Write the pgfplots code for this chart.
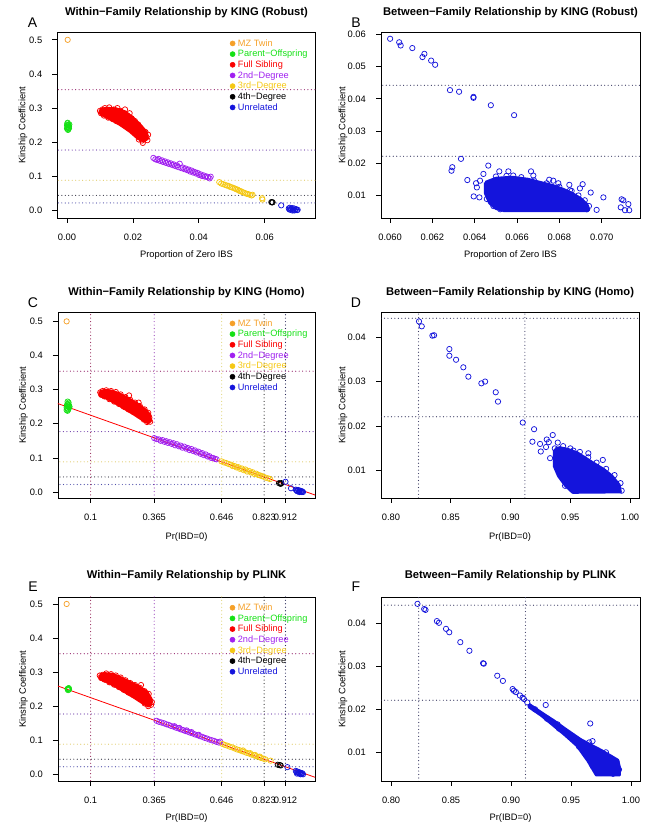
\documentclass[border=0pt]{standalone}
\usepackage{pgfplots}
\pgfplotsset{compat=1.18}
\usepackage{fontspec}
\setmainfont{Liberation Sans}

\definecolor{mzc}{RGB}{245,160,40}
\definecolor{poc}{RGB}{20,225,20}
\definecolor{fsc}{RGB}{250,0,0}
\definecolor{sdc}{RGB}{160,32,240}
\definecolor{tdc}{RGB}{245,200,20}
\definecolor{unc}{RGB}{20,20,220}
\definecolor{l354}{RGB}{150,40,110}
\definecolor{l177}{RGB}{110,60,170}
\definecolor{l088}{RGB}{225,205,110}
\definecolor{l044}{RGB}{55,55,70}
\definecolor{l022}{RGB}{80,80,170}
\definecolor{v100}{RGB}{150,40,90}
\definecolor{v365}{RGB}{160,80,190}
\definecolor{v646}{RGB}{225,215,130}
\definecolor{v823}{RGB}{30,30,30}
\definecolor{v912}{RGB}{40,40,90}
\definecolor{bl}{RGB}{60,60,100}

\newcommand{\tk}{\fontsize{7}{8}\selectfont}
\newcommand{\ttl}{\bfseries\fontsize{8.4}{10}\selectfont}
\newcommand{\lett}{\fontsize{10.5}{12}\selectfont}

\pgfplotsset{
  kin/.style={scale only axis, anchor=south west, clip=true, scaled ticks=false,
    axis line style={line width=0.6pt},
    tick align=outside, tick pos=left, major tick length=3.75pt,
    major tick style={black, line width=0.5pt},
    tick label style={font=\tk, inner sep=0pt},
    xticklabel style={anchor=center, yshift=-10.5pt},
    yticklabel style={anchor=east, xshift=-7.5pt},
    legend cell align=left,
    legend style={draw=none, fill=none, at={(0.668,0.972)}, anchor=north west,
      inner sep=0pt, row sep=0pt, column sep=1.5pt,
      font=\fontsize{6.9}{8}\selectfont,
      nodes={inner sep=0.6pt, text height=5.4pt, text depth=1.4pt}},
    legend image code/.code={\draw[##1,mark size=1.9pt] plot coordinates {(0.1cm,0cm)};},
  },
  pt/.style={forget plot, only marks, mark=o, mark size=2pt, mark options={line width=0.55pt}},
  cloud/.style={forget plot, fill=#1, draw=#1, line width=2pt, line join=round},
  ref/.style={forget plot, line width=0.9pt, line cap=round, dash pattern=on 0pt off 2.6pt},
}

\newcommand{\kinlegend}{%
  \addlegendimage{only marks,mark=*,mzc}\addlegendentry{\textcolor{mzc}{MZ Twin}}
  \addlegendimage{only marks,mark=*,poc}\addlegendentry{\textcolor{poc}{Parent−Offspring}}
  \addlegendimage{only marks,mark=*,fsc}\addlegendentry{\textcolor{fsc}{Full Sibling}}
  \addlegendimage{only marks,mark=*,sdc}\addlegendentry{\textcolor{sdc}{2nd−Degree}}
  \addlegendimage{only marks,mark=*,tdc}\addlegendentry{\textcolor{tdc}{3rd−Degree}}
  \addlegendimage{only marks,mark=*,black}\addlegendentry{\textcolor{black}{4th−Degree}}
  \addlegendimage{only marks,mark=*,unc}\addlegendentry{\textcolor{unc}{Unrelated}}
}
\newcommand{\hlines}[2]{%
  \addplot[ref,l354] coordinates {(#1,0.354) (#2,0.354)};
  \addplot[ref,l177] coordinates {(#1,0.177) (#2,0.177)};
  \addplot[ref,l088] coordinates {(#1,0.0884) (#2,0.0884)};
  \addplot[ref,l044] coordinates {(#1,0.0442) (#2,0.0442)};
  \addplot[ref,l022] coordinates {(#1,0.0221) (#2,0.0221)};
}
\newcommand{\vlines}{%
  \addplot[ref,v100] coordinates {(0.1,-0.1) (0.1,0.6)};
  \addplot[ref,v365] coordinates {(0.365,-0.1) (0.365,0.6)};
  \addplot[ref,v646] coordinates {(0.646,-0.1) (0.646,0.6)};
  \addplot[ref,v823] coordinates {(0.823,-0.1) (0.823,0.6)};
  \addplot[ref,v912] coordinates {(0.912,-0.1) (0.912,0.6)};
}
\newcommand{\betweenlines}[2]{%
  \addplot[ref,bl] coordinates {(#1,0.0442) (#2,0.0442)};
  \addplot[ref,bl] coordinates {(#1,0.0221) (#2,0.0221)};
}

\begin{document}
\begin{tikzpicture}
\path[use as bounding box] (0,0) rectangle (484.5pt,620.25pt);

% ---------------- A ----------------
\begin{axis}[kin, name=A, at={(43.1pt,456.75pt)}, width=193.5pt, height=139pt,
  xmin=-0.0029, xmax=0.0754, ymin=-0.022, ymax=0.521,
  xtick={0,0.02,0.04,0.06}, xticklabels={0.00,0.02,0.04,0.06},
  ytick={0,0.1,0.2,0.3,0.4,0.5}, yticklabels={0.0,0.1,0.2,0.3,0.4,0.5}]
\kinlegend
\hlines{-0.01}{0.08}
\addplot[pt,mzc] coordinates {(0.0002,0.500)};
\addplot[pt,poc] coordinates {(0.0000,0.240) (0.0002,0.245) (0.0004,0.250) (0.0001,0.255)
  (0.0006,0.247) (0.0003,0.236) (0.0005,0.242) (0.0000,0.250) (0.0007,0.252) (0.0002,0.257)
  (0.0004,0.238) (0.0001,0.244) (0.0006,0.241) (0.0003,0.249)};
\addplot[cloud=fsc] coordinates {(0.0100,0.296) (0.0120,0.300) (0.0150,0.298) (0.0175,0.290)
  (0.0200,0.272) (0.0225,0.248) (0.0242,0.228) (0.0244,0.210) (0.0232,0.203) (0.0215,0.211)
  (0.0190,0.232) (0.0160,0.252) (0.0130,0.268) (0.0102,0.282) (0.0100,0.296)};
\addplot[pt,fsc] coordinates {(0.0100,0.292) (0.0103,0.285) (0.0108,0.296) (0.0112,0.278)
  (0.0115,0.300) (0.0120,0.288) (0.0125,0.272) (0.0128,0.302) (0.0133,0.290) (0.0138,0.268)
  (0.0142,0.296) (0.0146,0.283) (0.0150,0.262) (0.0153,0.300) (0.0158,0.275) (0.0162,0.292)
  (0.0165,0.255) (0.0170,0.285) (0.0172,0.268) (0.0176,0.296) (0.0180,0.248) (0.0183,0.278)
  (0.0186,0.262) (0.0190,0.285) (0.0193,0.240) (0.0196,0.270) (0.0200,0.255) (0.0203,0.232)
  (0.0206,0.262) (0.0210,0.245) (0.0213,0.224) (0.0216,0.252) (0.0220,0.215) (0.0222,0.238)
  (0.0226,0.228) (0.0228,0.205) (0.0232,0.220) (0.0235,0.212) (0.0238,0.230) (0.0241,0.215)
  (0.0244,0.206) (0.0230,0.198) (0.0218,0.208) (0.0246,0.222)};
\addplot[pt,sdc] coordinates {(0.0262,0.154) (0.0268,0.150) (0.0274,0.148) (0.0278,0.151)
  (0.0283,0.145) (0.0288,0.147) (0.0292,0.142) (0.0297,0.144) (0.0301,0.139) (0.0306,0.141)
  (0.0310,0.136) (0.0315,0.138) (0.0320,0.133) (0.0324,0.135) (0.0329,0.130) (0.0334,0.132)
  (0.0338,0.127) (0.0342,0.137) (0.0347,0.124) (0.0351,0.126) (0.0356,0.121) (0.0360,0.123)
  (0.0365,0.118) (0.0369,0.120) (0.0374,0.114) (0.0378,0.117) (0.0383,0.111) (0.0387,0.113)
  (0.0392,0.108) (0.0396,0.110) (0.0401,0.104) (0.0405,0.106) (0.0410,0.101) (0.0414,0.103)
  (0.0419,0.099) (0.0423,0.100) (0.0428,0.097) (0.0433,0.094) (0.0436,0.099)};
\addplot[pt,tdc] coordinates {(0.0462,0.083) (0.0468,0.079) (0.0474,0.077) (0.0480,0.075)
  (0.0485,0.073) (0.0490,0.072) (0.0495,0.069) (0.0500,0.068) (0.0505,0.066) (0.0510,0.064)
  (0.0514,0.062) (0.0518,0.061) (0.0522,0.058) (0.0526,0.057) (0.0530,0.055) (0.0535,0.053)
  (0.0540,0.051) (0.0545,0.049) (0.0550,0.048) (0.0555,0.046) (0.0560,0.044) (0.0563,0.046)
  (0.0593,0.032) (0.0592,0.036)};
\addplot[pt,black] coordinates {(0.0620,0.0245) (0.0624,0.0240) (0.0622,0.0236)};
\addplot[pt,unc] coordinates {(0.0650,0.0150) (0.0673,0.006) (0.0676,0.008) (0.0680,0.004)
  (0.0683,0.007) (0.0686,0.003) (0.0689,0.006) (0.0692,0.002) (0.0695,0.004) (0.0698,0.001)
  (0.0678,0.002) (0.0684,0.000) (0.0690,0.000) (0.0700,0.002) (0.0675,0.003)};
\end{axis}

% ---------------- B ----------------
\begin{axis}[kin, name=B, at={(285.75pt,456.75pt)}, width=194.25pt, height=139pt,
  xmin=0.05957, xmax=0.07181, ymin=0.00288, ymax=0.0606,
  xtick={0.060,0.062,0.064,0.066,0.068,0.070},
  xticklabels={0.060,0.062,0.064,0.066,0.068,0.070},
  ytick={0.01,0.02,0.03,0.04,0.05,0.06}, yticklabels={0.01,0.02,0.03,0.04,0.05,0.06}]
\betweenlines{0.059}{0.073}
\addplot[cloud=unc] coordinates {(0.0645,0.0140) (0.0650,0.0153) (0.0658,0.0156) (0.0665,0.0150)
  (0.0671,0.0140) (0.0677,0.0130) (0.0682,0.0118) (0.0686,0.0106) (0.0690,0.0090) (0.0693,0.0072)
  (0.0694,0.0055) (0.0693,0.0051) (0.0654,0.0051) (0.0650,0.0058) (0.0647,0.0075) (0.0645,0.0105)
  (0.0645,0.0140)};
\addplot[pt,unc] coordinates {(0.0600,0.0587) (0.06043,0.0576) (0.0605,0.0566) (0.06105,0.0558)
  (0.06153,0.0530) (0.06162,0.0540) (0.06194,0.0519) (0.06213,0.0506) (0.06283,0.0427)
  (0.06326,0.0422) (0.06394,0.0406) (0.06394,0.0403) (0.06476,0.0380) (0.06586,0.0349)
  (0.06335,0.0213) (0.06294,0.0187) (0.0629,0.0176) (0.06365,0.0147) (0.06395,0.0096)
  (0.06464,0.0192) (0.06441,0.0166) (0.06516,0.0174) (0.06559,0.0174) (0.06582,0.0161)
  (0.06666,0.0174) (0.06677,0.0161) (0.06752,0.0148) (0.06771,0.0145) (0.06795,0.0137)
  (0.06847,0.0132) (0.0691,0.0134) (0.06897,0.0121) (0.06948,0.0108) (0.07008,0.0093)
  (0.06976,0.0054) (0.07094,0.0087) (0.07102,0.0084) (0.0709,0.0062) (0.07126,0.0072)
  (0.0711,0.0053) (0.0713,0.0053) (0.06425,0.0145) (0.06406,0.0137) (0.0641,0.0124)
  (0.06422,0.0093) (0.06457,0.0088) (0.06488,0.0066) (0.0652,0.0056) (0.06842,0.0093)
  (0.06803,0.0108) (0.06858,0.0113) (0.0650,0.0158) (0.0655,0.0160) (0.0662,0.0156)
  (0.0668,0.0146) (0.0674,0.0137) (0.0680,0.0126) (0.0685,0.0115) (0.0689,0.0099)
  (0.0692,0.0084) (0.0694,0.0066) (0.0693,0.0056) (0.0688,0.0058) (0.0684,0.0070)};
\end{axis}

% ---------------- C ----------------
\begin{axis}[kin, name=C, at={(43.5pt,246.75pt)}, width=192.75pt, height=139pt,
  xmin=-0.036, xmax=1.035, ymin=-0.0175, ymax=0.5255,
  xtick={0.1,0.365,0.646,0.823,0.912}, xticklabels={0.1,0.365,0.646,0.823,0.912},
  ytick={0,0.1,0.2,0.3,0.4,0.5}, yticklabels={0.0,0.1,0.2,0.3,0.4,0.5}]
\kinlegend
\hlines{-0.1}{1.1}
\vlines
\addplot[pt,mzc] coordinates {(0.000,0.500)};
\addplot[pt,poc] coordinates {(0.000,0.240) (0.003,0.245) (0.006,0.250) (0.002,0.256)
  (0.008,0.262) (0.004,0.265) (0.010,0.248) (0.001,0.252) (0.007,0.242) (0.005,0.258)
  (0.009,0.255) (0.000,0.247) (0.012,0.250) (0.004,0.238)};
\addplot[cloud=fsc] coordinates {(0.138,0.295) (0.160,0.298) (0.190,0.296) (0.220,0.288)
  (0.260,0.273) (0.300,0.256) (0.330,0.240) (0.348,0.225) (0.350,0.208) (0.338,0.203)
  (0.315,0.212) (0.280,0.228) (0.240,0.245) (0.200,0.262) (0.165,0.275) (0.138,0.282)
  (0.138,0.295)};
\addplot[pt,fsc] coordinates {(0.140,0.292) (0.145,0.285) (0.150,0.296) (0.158,0.280)
  (0.165,0.298) (0.170,0.288) (0.178,0.272) (0.185,0.296) (0.190,0.283) (0.198,0.265)
  (0.205,0.293) (0.210,0.276) (0.218,0.258) (0.225,0.286) (0.230,0.268) (0.238,0.250)
  (0.245,0.278) (0.250,0.260) (0.258,0.242) (0.265,0.270) (0.270,0.252) (0.278,0.235)
  (0.285,0.262) (0.290,0.244) (0.298,0.228) (0.305,0.252) (0.310,0.236) (0.318,0.220)
  (0.325,0.242) (0.330,0.226) (0.336,0.212) (0.340,0.232) (0.345,0.218) (0.348,0.206)
  (0.335,0.205) (0.322,0.212) (0.300,0.262) (0.260,0.283)};
\addplot[pt,sdc] coordinates {(0.365,0.158) (0.375,0.155) (0.385,0.154) (0.392,0.150)
  (0.400,0.152) (0.408,0.147) (0.415,0.149) (0.422,0.144) (0.430,0.146) (0.438,0.141)
  (0.445,0.143) (0.452,0.137) (0.460,0.140) (0.468,0.134) (0.475,0.136) (0.482,0.130)
  (0.490,0.133) (0.498,0.127) (0.505,0.129) (0.512,0.123) (0.520,0.126) (0.528,0.120)
  (0.535,0.122) (0.542,0.116) (0.550,0.118) (0.558,0.112) (0.565,0.114) (0.572,0.108)
  (0.580,0.110) (0.588,0.104) (0.595,0.105) (0.602,0.100) (0.610,0.100) (0.618,0.097)
  (0.625,0.096)};
\addplot[pt,tdc] coordinates {(0.645,0.090) (0.655,0.087) (0.665,0.085) (0.675,0.082)
  (0.685,0.080) (0.692,0.076) (0.700,0.076) (0.708,0.072) (0.715,0.073) (0.722,0.068)
  (0.730,0.069) (0.738,0.064) (0.745,0.066) (0.752,0.060) (0.760,0.062) (0.768,0.057)
  (0.775,0.058) (0.782,0.053) (0.790,0.054) (0.798,0.050) (0.805,0.049) (0.812,0.047)
  (0.820,0.045) (0.830,0.042) (0.840,0.040) (0.848,0.038)};
\addplot[pt,black] coordinates {(0.885,0.026) (0.890,0.025) (0.895,0.026) (0.892,0.024)};
\addplot[pt,unc] coordinates {(0.912,0.030) (0.935,0.011) (0.955,0.007) (0.960,0.004)
  (0.965,0.006) (0.968,0.002) (0.972,0.004) (0.975,0.001) (0.978,0.003) (0.982,0.001)
  (0.962,0.002) (0.958,0.005) (0.970,0.000) (0.980,0.000) (0.985,0.000)};
\addplot[forget plot, red, line width=0.6pt] coordinates {(-0.04,0.26) (1.04,-0.01)};
\end{axis}

% ---------------- D ----------------
\begin{axis}[kin, name=D, at={(285.75pt,246.75pt)}, width=193.5pt, height=139pt,
  xmin=0.7916, xmax=1.0075, ymin=0.00386, ymax=0.04547,
  xtick={0.80,0.85,0.90,0.95,1.00}, xticklabels={0.80,0.85,0.90,0.95,1.00},
  ytick={0.01,0.02,0.03,0.04}, yticklabels={0.01,0.02,0.03,0.04}]
\betweenlines{0.78}{1.02}
\addplot[ref,bl] coordinates {(0.823,0.0) (0.823,0.05)};
\addplot[ref,bl] coordinates {(0.912,0.0) (0.912,0.05)};
\addplot[cloud=unc] coordinates {(0.9365,0.0145) (0.941,0.0152) (0.948,0.0148) (0.956,0.0140)
  (0.963,0.0128) (0.970,0.0116) (0.978,0.0103) (0.985,0.0088) (0.991,0.0068) (0.992,0.0052)
  (0.952,0.0051) (0.946,0.0066) (0.940,0.0088) (0.9365,0.0110) (0.9365,0.0145)};
\addplot[pt,unc] coordinates {(0.8234,0.0435) (0.8257,0.0424) (0.8346,0.0403) (0.8360,0.0404)
  (0.8488,0.0373) (0.8488,0.0358) (0.8544,0.0349) (0.8605,0.0332) (0.8647,0.0311)
  (0.8756,0.0296) (0.8787,0.0300) (0.8876,0.0276) (0.8895,0.0255) (0.9102,0.0208)
  (0.9197,0.0193) (0.9183,0.0165) (0.9247,0.0160) (0.9253,0.0143) (0.9303,0.0170)
  (0.9320,0.0164) (0.9353,0.0180) (0.9297,0.0153) (0.9331,0.0128) (0.9395,0.0163)
  (0.9392,0.0147) (0.9526,0.0145) (0.9548,0.0137) (0.9651,0.0139) (0.9772,0.0124)
  (0.9715,0.0103) (0.9757,0.0096) (0.9615,0.0118) (0.9456,0.0066) (0.9414,0.0106)
  (0.9370,0.0150) (0.9440,0.0155) (0.9500,0.0150) (0.9580,0.0142) (0.9650,0.0130)
  (0.9720,0.0118) (0.9800,0.0104) (0.9870,0.0090) (0.9920,0.0072) (0.9930,0.0055)
  (0.9380,0.0120) (0.9410,0.0095) (0.9480,0.0070)};
\end{axis}

% ---------------- E ----------------
\begin{axis}[kin, name=E, at={(43.5pt,34.5pt)}, width=192.75pt, height=138pt,
  xmin=-0.036, xmax=1.035, ymin=-0.0197, ymax=0.5205,
  xtick={0.1,0.365,0.646,0.823,0.912}, xticklabels={0.1,0.365,0.646,0.823,0.912},
  ytick={0,0.1,0.2,0.3,0.4,0.5}, yticklabels={0.0,0.1,0.2,0.3,0.4,0.5}]
\kinlegend
\hlines{-0.1}{1.1}
\vlines
\addplot[pt,mzc] coordinates {(0.000,0.500)};
\addplot[pt,poc] coordinates {(0.004,0.250) (0.007,0.252) (0.010,0.249) (0.006,0.247)
  (0.009,0.253) (0.005,0.251)};
\addplot[cloud=fsc] coordinates {(0.138,0.292) (0.160,0.296) (0.190,0.294) (0.220,0.286)
  (0.260,0.272) (0.300,0.258) (0.335,0.242) (0.352,0.222) (0.352,0.205) (0.340,0.200)
  (0.315,0.210) (0.280,0.226) (0.240,0.243) (0.200,0.260) (0.165,0.272) (0.138,0.280)
  (0.138,0.292)};
\addplot[pt,fsc] coordinates {(0.138,0.290) (0.145,0.283) (0.150,0.292) (0.158,0.278)
  (0.165,0.296) (0.170,0.286) (0.178,0.270) (0.185,0.294) (0.190,0.281) (0.198,0.263)
  (0.205,0.290) (0.210,0.274) (0.218,0.256) (0.225,0.284) (0.230,0.266) (0.238,0.248)
  (0.245,0.276) (0.250,0.258) (0.258,0.240) (0.265,0.268) (0.270,0.250) (0.278,0.233)
  (0.285,0.262) (0.290,0.242) (0.298,0.226) (0.305,0.254) (0.310,0.234) (0.318,0.218)
  (0.325,0.244) (0.330,0.224) (0.336,0.210) (0.342,0.236) (0.348,0.216) (0.352,0.204)
  (0.340,0.200) (0.325,0.208) (0.310,0.262) (0.355,0.212)};
\addplot[pt,sdc] coordinates {(0.375,0.157) (0.385,0.154) (0.395,0.152) (0.405,0.150)
  (0.415,0.147) (0.425,0.145) (0.435,0.142) (0.445,0.140) (0.455,0.137) (0.465,0.135)
  (0.475,0.132) (0.485,0.130) (0.495,0.127) (0.505,0.125) (0.515,0.122) (0.525,0.120)
  (0.535,0.117) (0.545,0.115) (0.555,0.112) (0.565,0.110) (0.575,0.107) (0.585,0.105)
  (0.595,0.102) (0.605,0.100) (0.615,0.098) (0.625,0.095) (0.635,0.093) (0.640,0.096)
  (0.450,0.141) (0.500,0.129) (0.550,0.116) (0.520,0.124) (0.470,0.136)};
\addplot[pt,tdc] coordinates {(0.650,0.089) (0.660,0.086) (0.670,0.084) (0.680,0.081)
  (0.690,0.079) (0.700,0.076) (0.710,0.073) (0.720,0.071) (0.730,0.068) (0.740,0.066)
  (0.750,0.063) (0.760,0.061) (0.770,0.058) (0.780,0.056) (0.790,0.053) (0.800,0.051)
  (0.810,0.048) (0.820,0.046) (0.828,0.044) (0.850,0.040) (0.735,0.070) (0.765,0.062)
  (0.785,0.057) (0.805,0.052)};
\addplot[pt,black] coordinates {(0.880,0.028) (0.888,0.027) (0.892,0.026)};
\addplot[pt,unc] coordinates {(0.920,0.021) (0.955,0.010) (0.958,0.006) (0.962,0.008)
  (0.965,0.004) (0.968,0.006) (0.970,0.002) (0.973,0.005) (0.976,0.003) (0.979,0.001)
  (0.982,0.003) (0.960,0.002) (0.985,0.000) (0.975,0.000)};
\addplot[forget plot, red, line width=0.6pt] coordinates {(-0.04,0.26) (1.04,-0.01)};
\end{axis}

% ---------------- F ----------------
\begin{axis}[kin, name=F, at={(285.75pt,34.5pt)}, width=194.25pt, height=138pt,
  xmin=0.7916, xmax=1.0075, ymin=0.00333, ymax=0.0461,
  xtick={0.80,0.85,0.90,0.95,1.00}, xticklabels={0.80,0.85,0.90,0.95,1.00},
  ytick={0.01,0.02,0.03,0.04}, yticklabels={0.01,0.02,0.03,0.04}]
\betweenlines{0.78}{1.02}
\addplot[ref,bl] coordinates {(0.823,0.0) (0.823,0.05)};
\addplot[ref,bl] coordinates {(0.912,0.0) (0.912,0.05)};
\addplot[cloud=unc] coordinates {(0.9150,0.0212) (0.925,0.0193) (0.936,0.0173) (0.946,0.0153)
  (0.958,0.0130) (0.966,0.0118) (0.975,0.0105) (0.983,0.0092) (0.989,0.0082) (0.9905,0.0065)
  (0.9905,0.0047) (0.971,0.0047) (0.964,0.0080) (0.955,0.0115) (0.945,0.0140) (0.935,0.0163)
  (0.925,0.0186) (0.915,0.0205) (0.9150,0.0212)};
\addplot[pt,unc] coordinates {(0.8220,0.0445) (0.8276,0.0433) (0.8287,0.0431) (0.8382,0.0405)
  (0.8399,0.0401) (0.8458,0.0387) (0.8485,0.0379) (0.8577,0.0356) (0.8653,0.0336)
  (0.8767,0.0307) (0.8773,0.0306) (0.8885,0.0278) (0.8932,0.0266) (0.9013,0.0247)
  (0.9024,0.0243) (0.9040,0.0240) (0.9074,0.0232) (0.9096,0.0227) (0.9107,0.0224)
  (0.9135,0.0216) (0.9289,0.0210) (0.9387,0.0165) (0.9660,0.0167) (0.9651,0.0123)
  (0.9679,0.0126) (0.9791,0.0100) (0.9749,0.0095) (0.9567,0.0113) (0.9200,0.0200)
  (0.9300,0.0178) (0.9400,0.0155) (0.9500,0.0135) (0.9600,0.0118) (0.9700,0.0104)
  (0.9800,0.0090) (0.9880,0.0078) (0.9900,0.0060) (0.9850,0.0050) (0.9750,0.0052)
  (0.9680,0.0068)};
\end{axis}

% ---------------- texts ----------------
\node[font=\ttl] at ([yshift=15pt]A.north) {Within−Family Relationship by KING (Robust)};
\node[font=\ttl] at ([yshift=15pt]B.north) {Between−Family Relationship by KING (Robust)};
\node[font=\ttl] at ([yshift=15pt]C.north) {Within−Family Relationship by KING (Homo)};
\node[font=\ttl] at ([yshift=15pt]D.north) {Between−Family Relationship by KING (Homo)};
\node[font=\ttl] at ([yshift=16pt]E.north) {Within−Family Relationship by PLINK};
\node[font=\ttl] at ([yshift=16pt]F.north) {Between−Family Relationship by PLINK};

\node[font=\lett] at ([xshift=-18.75pt,yshift=7.5pt]A.north west) {A};
\node[font=\lett] at ([xshift=-18.75pt,yshift=7.5pt]B.north west) {B};
\node[font=\lett] at ([xshift=-18.75pt,yshift=7.5pt]C.north west) {C};
\node[font=\lett] at ([xshift=-18.75pt,yshift=7.5pt]D.north west) {D};
\node[font=\lett] at ([xshift=-18.75pt,yshift=8pt]E.north west) {E};
\node[font=\lett] at ([xshift=-18.75pt,yshift=8pt]F.north west) {F};

\foreach \p/\s in {A/25.9pt,C/25.9pt,E/25.9pt,B/28.5pt,D/28.5pt,F/28.5pt}
  \node[rotate=90,font=\tk] at ([xshift=-\s]\p.west) {Kinship Coefficient};

\node[font=\tk] at ([yshift=-27.75pt]A.south) {Proportion of Zero IBS};
\node[font=\tk] at ([yshift=-27.75pt]B.south) {Proportion of Zero IBS};
\node[font=\tk] at ([yshift=-29pt]C.south) {Pr(IBD=0)};
\node[font=\tk] at ([yshift=-29pt]D.south) {Pr(IBD=0)};
\node[font=\tk] at ([yshift=-27.75pt]E.south) {Pr(IBD=0)};
\node[font=\tk] at ([yshift=-27.75pt]F.south) {Pr(IBD=0)};
\end{tikzpicture}
\end{document}
